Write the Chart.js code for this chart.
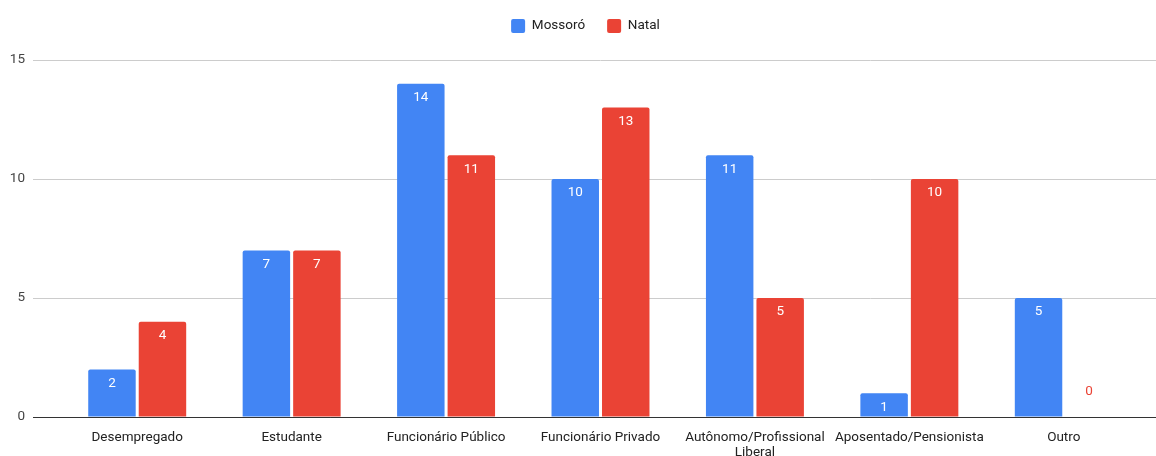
<!DOCTYPE html>
<html>
<head>
<meta charset="utf-8">
<script src="https://cdn.jsdelivr.net/npm/chart.js@4"></script>
<style>
  html, body { margin: 0; padding: 0; background: #fff; }
  #wrap { width: 1156px; height: 456px; position: relative; }
</style>
</head>
<body>
<div id="wrap"><canvas id="myChart"></canvas></div>
<script>
// categories and counts per city
const categories = [
  'Desempregado',
  'Estudante',
  'Funcionário Público',
  'Funcionário Privado',
  ['Autônomo/Profissional', 'Liberal'],
  'Aposentado/Pensionista',
  'Outro'
];
const mossoro = [2, 7, 14, 10, 11, 1, 5];
const natal = [4, 7, 11, 13, 5, 10, 0];
const yTicks = [0, 5, 10, 15];

const BLUE = '#4285F4';
const RED = '#EA4335';
const FONT = 'Roboto';
const FONT_SIZE = 13.5;

// draws the value of each bar, white inside the bar or coloured above the baseline when zero
const barValuesPlugin = {
  id: 'barValues',
  afterDatasetsDraw(chart) {
    const ctx = chart.ctx;
    ctx.save();
    ctx.font = FONT_SIZE + 'px ' + FONT;
    ctx.textAlign = 'center';
    ctx.textBaseline = 'middle';
    chart.data.datasets.forEach((ds, i) => {
      const meta = chart.getDatasetMeta(i);
      meta.data.forEach((bar, j) => {
        const v = ds.data[j];
        if (v > 0) {
          ctx.fillStyle = '#fff';
          ctx.fillText(String(v), bar.x, bar.y + 14);
        } else {
          ctx.fillStyle = ds.backgroundColor;
          ctx.fillText(String(v), bar.x, bar.y - 25);
        }
      });
    });
    ctx.restore();
  }
};

// carries the horizontal grid lines on to the right edge of the canvas
const gridExtendPlugin = {
  id: 'gridExtend',
  beforeDatasetsDraw(chart) {
    const ctx = chart.ctx;
    const y = chart.scales.y;
    ctx.save();
    ctx.lineWidth = 1;
    yTicks.forEach(t => {
      const py = Math.round(y.getPixelForValue(t)) + 0.5;
      ctx.strokeStyle = t === 0 ? '#333' : '#ccc';
      ctx.beginPath();
      ctx.moveTo(chart.chartArea.right, py);
      ctx.lineTo(chart.width, py);
      ctx.stroke();
    });
    ctx.restore();
  }
};

// more room under the legend, and legend centred on the full canvas
const legendSpacePlugin = {
  id: 'legendSpace',
  beforeInit(chart) {
    const fit = chart.legend.fit;
    chart.legend.fit = function () {
      fit.bind(chart.legend)();
      this.height += 17;
    };
  },
  afterLayout(chart) {
    chart.legend.left += 15;
    chart.legend.right += 15;
  }
};

const config = {
  type: 'bar',
  data: {
    labels: categories,
    datasets: [
      { label: 'Mossoró', data: mossoro, backgroundColor: BLUE },
      { label: 'Natal', data: natal, backgroundColor: RED }
    ]
  },
  options: {
    responsive: true,
    maintainAspectRatio: false,
    animation: false,
    layout: { padding: { top: -3, right: 15, bottom: 0, left: 0 } },
    datasets: {
      bar: {
        categoryPercentage: 0.654,
        barPercentage: 0.94,
        borderRadius: { topLeft: 2, topRight: 2 },
        borderSkipped: 'bottom'
      }
    },
    plugins: {
      legend: {
        position: 'top',
        labels: {
          boxWidth: 14,
          boxHeight: 14,
          useBorderRadius: true,
          borderRadius: 2,
          padding: 22,
          color: '#222',
          font: { family: FONT, size: FONT_SIZE }
        }
      },
      tooltip: { enabled: false }
    },
    scales: {
      x: {
        afterFit(scale) { scale.height = 39; },
        grid: { display: false },
        border: { color: '#333' },
        ticks: {
          color: '#222',
          font: { family: FONT, size: FONT_SIZE, lineHeight: 1.05 },
          maxRotation: 0,
          autoSkip: false,
          padding: 6
        }
      },
      y: {
        min: 0,
        max: 15,
        afterFit(scale) { scale.width = 60; },
        afterBuildTicks(scale) { scale.ticks = yTicks.map(v => ({ value: v })); },
        border: { display: false },
        grid: {
          color: c => (c.tick && c.tick.value === 0 ? '#333' : '#ccc'),
          tickLength: 27
        },
        ticks: {
          color: '#444',
          font: { family: FONT, size: FONT_SIZE },
          padding: 8
        }
      }
    }
  },
  plugins: [barValuesPlugin, gridExtendPlugin, legendSpacePlugin]
};

const myChart = new Chart(document.getElementById('myChart'), config);
</script>
</body>
</html>
